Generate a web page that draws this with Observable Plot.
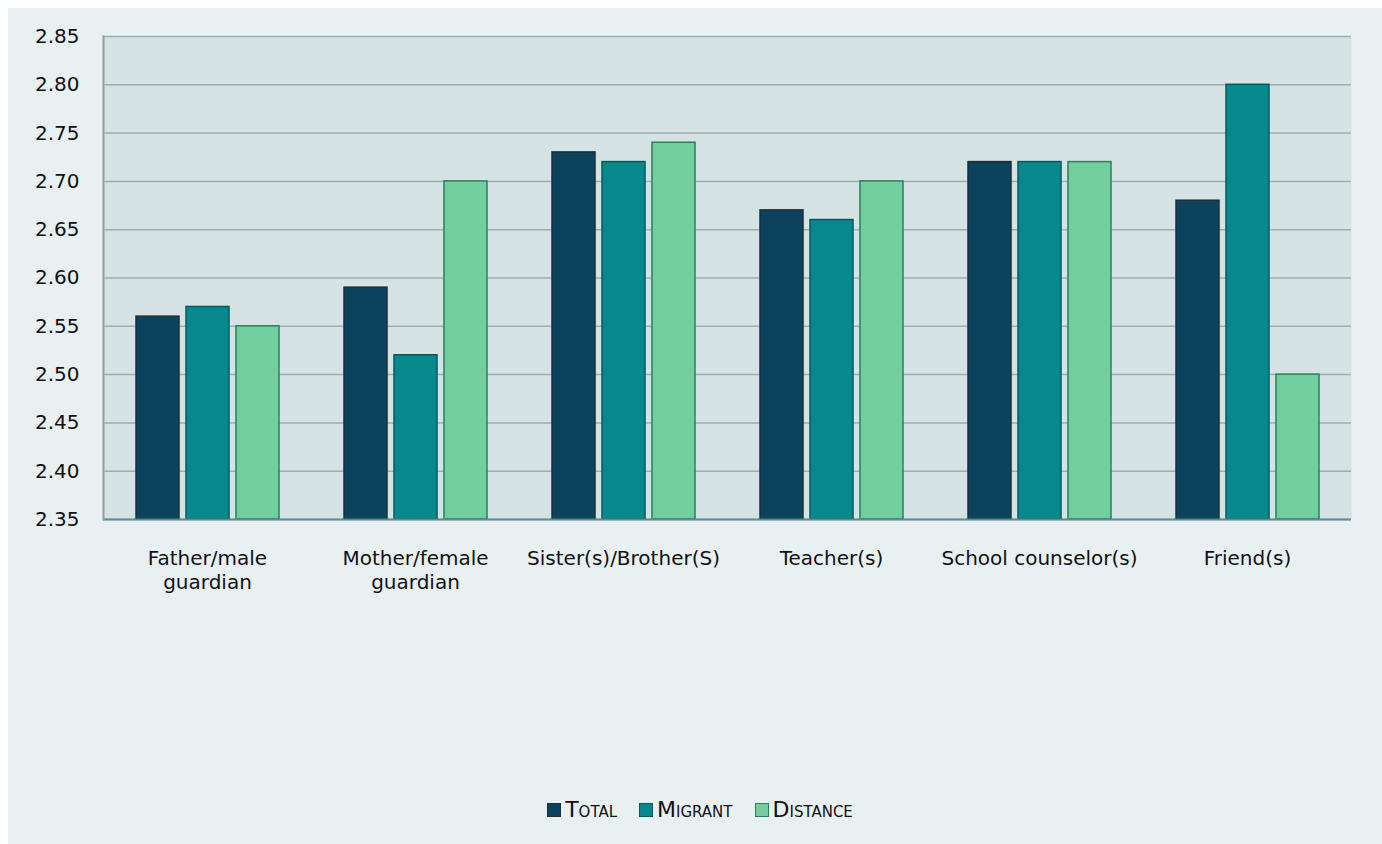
<!DOCTYPE html>
<html><head><meta charset="utf-8">
<script src="https://cdn.jsdelivr.net/npm/d3@7"></script>
<script src="https://cdn.jsdelivr.net/npm/@observablehq/plot@0.6"></script>
<style>
body{margin:8px 0 0 8px;background:#fff;overflow:hidden}
#wrap{width:1374px;height:836px;background:#E8F0F2;position:relative;font-family:"DejaVu Sans",sans-serif}
#chart svg{display:block}
#legend{position:absolute;left:0;right:0;top:789px;display:flex;justify-content:center;gap:22px;font-size:22px;font-variant:small-caps;color:#111;padding-left:10px}
#legend .item{display:flex;align-items:center}
#legend .sw{display:inline-block;width:12px;height:12px;margin-right:4px;border:1px solid}
</style></head>
<body>
<div id="wrap"><div id="chart"></div><div id="legend"></div></div>
<script>
const categories = ["Father/male guardian","Mother/female guardian","Sister(s)/Brother(S)","Teacher(s)","School counselor(s)","Friend(s)"];
const tickLabels = ["Father/male\nguardian","Mother/female\nguardian","Sister(s)/Brother(S)","Teacher(s)","School counselor(s)","Friend(s)"];
const series = ["Total","Migrant","Distance"];
const total = [2.56,2.59,2.73,2.67,2.72,2.68];
const migrant = [2.57,2.52,2.72,2.66,2.72,2.80];
const distance = [2.55,2.70,2.74,2.70,2.72,2.50];
const yTicks = [2.35,2.40,2.45,2.50,2.55,2.60,2.65,2.70,2.75,2.80,2.85];
const fills = ["#0C425C","#06888C","#72CE9E"];
const strokes = ["#1B3038","#05585C","#2F7E57"];

const valuesBySeries = [total, migrant, distance];
const rows = [];
series.forEach((s, si) => categories.forEach((c, ci) => rows.push({category: c, series: s, value: valuesBySeries[si][ci]})));
const labelOf = Object.fromEntries(categories.map((c, i) => [c, tickLabels[i]]));
const base = yTicks[0];

const chart = Plot.plot({
  width: 1374, height: 760,
  marginLeft: 95, marginRight: 31, marginTop: 28, marginBottom: 249,
  style: {background: "transparent", fontFamily: "DejaVu Sans, sans-serif", fontSize: "20px", color: "#111"},
  fx: {domain: categories, paddingInner: 0, paddingOuter: 0, label: null, axis: null},
  x: {domain: series, paddingInner: 0.14, paddingOuter: 0.65, axis: null},
  y: {domain: [yTicks[0], yTicks[yTicks.length - 1]], label: null},
  marks: [
    Plot.frame({fill: "#D5E3E5", stroke: null, facet: "super"}),
    Plot.gridY(yTicks, {stroke: "#9DAEAE", strokeOpacity: 1, strokeWidth: 1.5}),
    Plot.axisY(yTicks, {tickSize: 0, tickPadding: 24, tickFormat: d => d.toFixed(2), label: null}),
    Plot.axisFx({anchor: "bottom", tickSize: 0, tickPadding: 28, tickFormat: d => labelOf[d], lineHeight: 1.2, label: null, style: "letter-spacing:0.5px"}),
    ...series.map((s, si) => Plot.barY(rows.filter(r => r.series === s), {
      fx: "category", x: "series", y1: base, y2: "value",
      fill: fills[si], stroke: strokes[si], strokeWidth: 1.5
    })),
    Plot.ruleY([base], {stroke: "#5C8C92", strokeWidth: 2}),
    Plot.frame({anchor: "left", stroke: "#9A9A9A", strokeWidth: 2, facet: "super"})
  ]
});
document.getElementById("chart").append(chart);

const legend = document.getElementById("legend");
series.forEach((s, i) => {
  const item = document.createElement("span");
  item.className = "item";
  const sw = document.createElement("span");
  sw.className = "sw";
  sw.style.background = fills[i];
  sw.style.borderColor = strokes[i];
  item.append(sw, document.createTextNode(s));
  legend.append(item);
});
</script>
</body></html>
